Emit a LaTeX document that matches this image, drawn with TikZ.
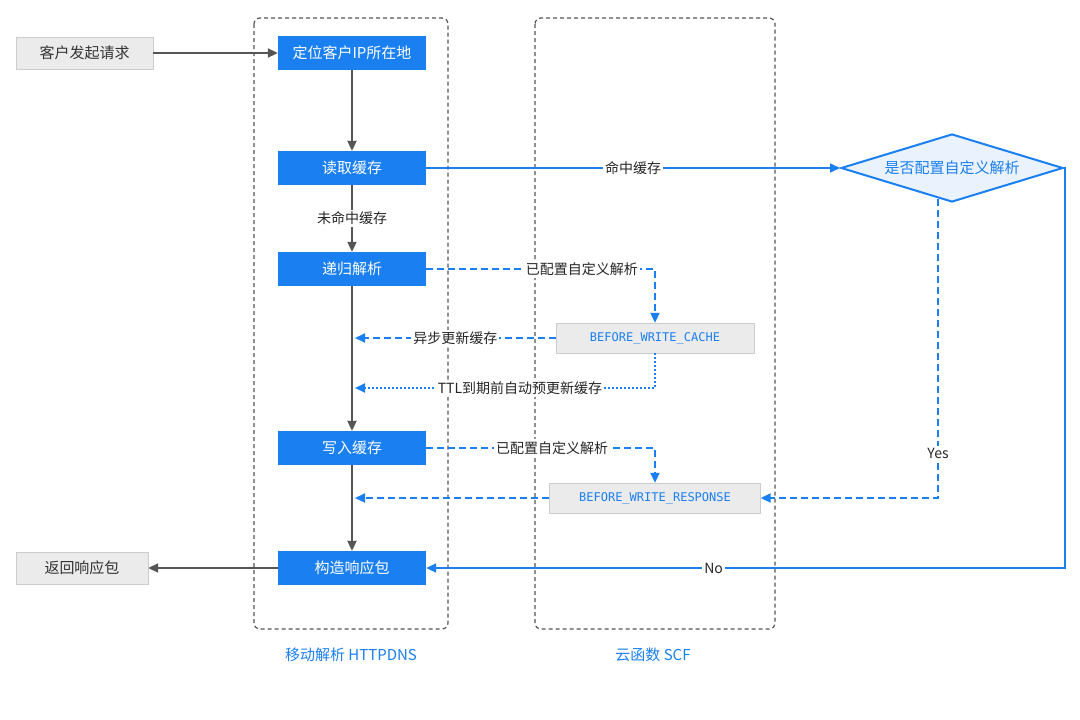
\documentclass[tikz,border=0pt]{standalone}
\usepackage{fontspec}
\setmainfont{Noto Sans CJK SC}
\setmonofont{DejaVu Sans Mono}
\usetikzlibrary{shapes.geometric,arrows.meta}
\definecolor{bl}{HTML}{1A7FF0}
\definecolor{gr}{HTML}{555555}
\definecolor{gb}{HTML}{EBEBEB}
\definecolor{lb}{HTML}{EAF3FD}
\begin{document}
\begin{tikzpicture}[x=1pt,y=-1pt,
 bx/.style={draw=none,fill=bl,text=white,minimum width=148pt,minimum height=34pt,inner sep=0,font=\fontsize{15}{17}\selectfont},
 gx/.style={draw=gray!40,fill=gb,text=black!80,minimum height=32pt,inner sep=0,font=\fontsize{15}{17}\selectfont},
 cx/.style={draw=gray!40,fill=gb,text=bl,minimum height=30pt,inner sep=0,font=\ttfamily\fontsize{12}{14}\selectfont},
 ga/.style={draw=gr,line width=2pt,-{Triangle[length=10pt,width=9pt]}},
 ba/.style={draw=bl,line width=2pt,-{Triangle[length=10pt,width=9pt]}},
 dsh/.style={dash pattern=on 7pt off 4pt},
 dot/.style={dash pattern=on 2pt off 2pt},
 lab/.style={fill=white,text=black!85,font=\fontsize{14}{16}\selectfont,inner sep=2pt},
 grp/.style={draw=gr,dash pattern=on 4pt off 3pt,line width=1.2pt,rounded corners=6pt}]
\useasboundingbox (0,0) rectangle (1080,720);
\fill[white] (0,0) rectangle (1080,720);
\draw[grp] (254,18) rectangle (448,629);
\draw[grp] (535,18) rectangle (775,629);
\node[font=\fontsize{15}{17}\selectfont,text=bl] (l1) at (351,655) {移动解析 HTTPDNS};
\node[font=\fontsize{15}{17}\selectfont,text=bl] (l2) at (653,655) {云函数 SCF};
\node[gx,minimum width=137pt] (req) at (84.5,53) {客户发起请求};
\node[gx,minimum width=132pt] (ret) at (82,568) {返回响应包};
\node[bx] (loc) at (352,53) {定位客户IP所在地};
\node[bx] (rd) at (352,168) {读取缓存};
\node[bx] (rec) at (352,269) {递归解析};
\node[bx] (wr) at (352,448) {写入缓存};
\node[bx] (mk) at (352,568) {构造响应包};
\node[diamond,aspect=3.3,draw=bl,line width=2pt,fill=lb,text=bl,inner sep=1pt,minimum width=222pt,minimum height=68pt,font=\fontsize{15}{17}\selectfont] (dia) at (952,168) {是否配置自定义解析};
\node[cx,minimum width=198pt] (bwc) at (655,338) {BEFORE\_WRITE\_CACHE};
\node[cx,minimum width=211pt] (bwr) at (655,498) {BEFORE\_WRITE\_RESPONSE};
\coordinate (c1) at (355,338);
\coordinate (c2) at (355,388);
\coordinate (c3) at (355,498);
\coordinate (ys) at (938,199);
\draw[ga] (req) -- (loc);
\draw[ga] (loc) -- (rd);
\draw[ga] (rd) -- node[lab]{未命中缓存} (rec);
\draw[ga] (rec) -- (wr);
\draw[ga] (wr) -- (mk);
\draw[ga] (mk) -- (ret);
\draw[ba] (rd.east) -- node[lab,pos=0.5]{命中缓存} (dia.west);
\draw[ba] (dia.east) -- (1065,168) -- (1065,568) -- node[lab,pos=0.55]{No} (mk.east);
\draw[ba,dsh] (ys) -- node[lab,pos=0.85]{Yes} (938,498) -- (bwr.east);
\draw[ba,dsh] (rec.east) -- node[lab,pos=0.68]{已配置自定义解析} (655,269) -- (bwc.north);
\draw[ba,dsh] (bwc.west) -- node[lab]{异步更新缓存} (c1);
\draw[ba,dot] (bwc.south) -- (655,388) -- node[lab,pos=0.45]{TTL到期前自动预更新缓存} (c2);
\draw[ba,dsh] (wr.east) -- node[lab,pos=0.55]{已配置自定义解析} (655,448) -- (bwr.north);
\draw[ba,dsh] (bwr.west) -- (c3);
\end{tikzpicture}
\end{document}
